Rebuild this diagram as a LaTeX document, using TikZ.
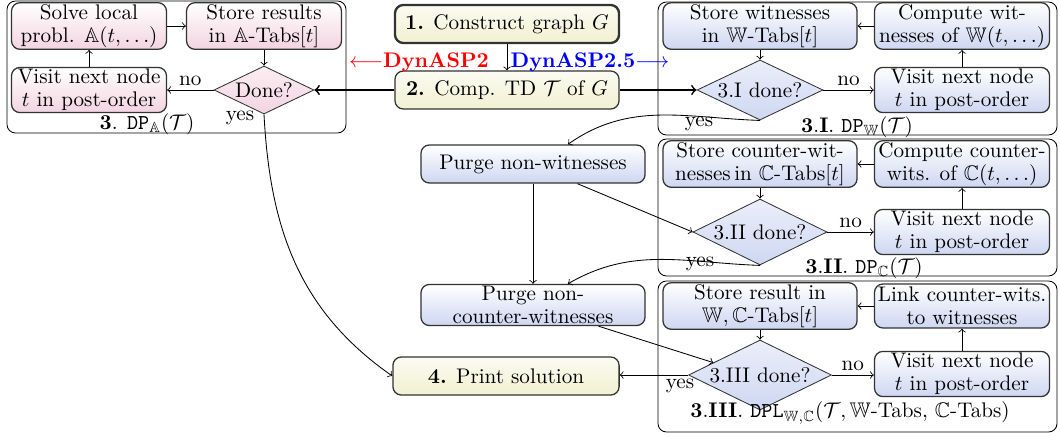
\documentclass[tikz,border=0pt]{standalone}
\usepackage{amssymb}
\usetikzlibrary{positioning,shapes,arrows,calc}

\definecolor{pinkA}{RGB}{243,212,224}
\definecolor{blueW}{RGB}{206,215,242}
\definecolor{yelM}{RGB}{241,241,210}

\begin{document}
\begin{tikzpicture}[x=0.473pt,y=0.473pt,auto]
    \tikzstyle{every node}=[align=center,inner sep=0.8pt,font=\fontsize{10}{10.9}\selectfont]
    \tikzstyle{note}=[draw=none,fill=none]
    \tikzstyle{frame}=[draw=black,rounded corners=4pt]
    \tikzstyle{proc}=[draw=black!80,semithick,rounded corners=4pt,minimum height=20.8pt]
    \tikzstyle{procA}=[proc,top color=white,bottom color=pinkA,minimum width=73.3pt]
    \tikzstyle{procW}=[proc,top color=white,bottom color=blueW]
    \tikzstyle{colL}=[procW,minimum width=91.8pt]
    \tikzstyle{colR}=[procW,minimum width=82.8pt]
    \tikzstyle{main}=[proc,top color=yelM!30,bottom color=yelM,minimum width=106pt,minimum height=18pt]
    \tikzstyle{test}=[diamond,draw=black!80,shape aspect=2.1,inner sep=0.5pt]
    \tikzstyle{testA}=[test,top color=pinkA!40,bottom color=pinkA]
    \tikzstyle{testW}=[test,top color=blueW!40,bottom color=blueW]
    \useasboundingbox (0,0) rectangle (1060,-436);
    {
        % 3. DP_A
        \draw[frame] (7,-1) rectangle (346,-133);
        \node[procA] (solve) at (89,-26) {Solve local\\probl. $\mathbb{A}(t,\dots)$};
        \node[procA] (storeA) at (264,-26) {Store results\\in $\mathbb{A}$-Tabs$[t]$};
        \node[procA] (visitA) at (89,-90) {Visit next node\\$t$ in post-order};
        \node[testA,minimum width=47.3pt,minimum height=22.7pt] (doneA) at (264,-90) {Done?};
        \node[note] (lblA) at (147,-124) {\textbf{3}. \texttt{DP}$_{\mathbb{A}}(\mathcal{T})$};
        \node[note] (yesA) at (240,-118) {yes};

        % 1. and 2.
        \node[main,line width=1.1pt] (graph) at (507,-24) {\textbf{1.} Construct graph $G$};
        \node[main] (td) at (507,-90) {\textbf{2.} Comp. TD $\mathcal{T}$ of $G$};
        \node[note,text=red] (old) at (419,-62) {$\longleftarrow$\textbf{DynASP2}};
        \node[note,text=blue] (new) at (590,-62) {\textbf{DynASP2.5}$\longrightarrow$};

        % 3.I
        \draw[frame] (658,-2) rectangle (1057,-135);
        \node[colL] (storeW) at (760,-26) {Store witnesses\\in $\mathbb{W}$-Tabs$[t]$};
        \node[colR] (compW) at (962,-26) {Compute wit-\\nesses of $\mathbb{W}(t,\dots)$};
        \node[testW,minimum width=59.6pt,minimum height=28.4pt] (doneW) at (760,-90) {3.I done?};
        \node[colR] (visitW) at (962,-90) {Visit next node\\$t$ in post-order};
        \node[note] (lblW) at (857,-127) {\textbf{3}.\textbf{I}. \texttt{DP}$_{\mathbb{W}}(\mathcal{T})$};
        \node[note] (yesW) at (699,-124) {yes};

        % 3.II
        \draw[frame] (658,-139) rectangle (1057,-276);
        \node[colL] (storeC) at (760,-164) {Store counter-wit-\\nesses\,in $\mathbb{C}$-Tabs$[t]$};
        \node[colR] (compC) at (962,-164) {Compute counter-\\wits. of $\mathbb{C}(t,\dots)$};
        \node[testW,minimum width=63.4pt,minimum height=31.2pt] (doneC) at (760,-232) {3.II done?};
        \node[colR] (visitC) at (962,-232) {Visit next node\\$t$ in post-order};
        \node[note] (lblC) at (864,-268) {\textbf{3}.\textbf{II}. \texttt{DP}$_{\mathbb{C}}(\mathcal{T})$};
        \node[note] (yesC) at (700,-264) {yes};

        % 3.III
        \draw[frame] (658,-281) rectangle (1057,-432);
        \node[colL] (storeL) at (760,-306) {Store result in\\$\mathbb{W},\mathbb{C}$-Tabs$[t]$};
        \node[colR] (linkL) at (962,-306) {Link counter-wits.\\to witnesses};
        \node[testW,minimum width=67.6pt,minimum height=33.1pt] (doneL) at (760,-375) {3.III done?};
        \node[colR] (visitL) at (962,-374) {Visit next node\\$t$ in post-order};
        \node[note] (lblL) at (850,-413) {\textbf{3}.\textbf{III}. \texttt{DPL}$_{\mathbb{W},\mathbb{C}}(\mathcal{T},\mathbb{W}$-Tabs, $\mathbb{C}$-Tabs$)$};
        \node[note] (yesL) at (680,-386) {yes};

        % purge and print
        \node[procW,minimum width=106pt,minimum height=18pt] (purgeW) at (533,-164) {Purge non-witnesses};
        \node[procW,minimum width=106pt,minimum height=19pt] (purgeC) at (533,-305) {Purge non-\\counter-witnesses};
        \node[main,minimum width=107pt] (print) at (506,-376) {\textbf{4.} Print solution};

        \draw[->] (solve) -- (storeA);
        \draw[->] (storeA) -- (doneA);
        \draw[->] (doneA) -- node[note,above=1pt] {no} (visitA);
        \draw[->] (visitA) -- (solve);

        \draw[->] (graph) -- (td);
        \draw[->,thick] (td) -- (doneA);
        \draw[->,thick] (td) -- (doneW);

        \draw[->] (compW) -- (storeW);
        \draw[->] (storeW) -- (doneW);
        \draw[->] (doneW) -- node[note,above=1pt] {no} (visitW);
        \draw[->] (visitW) -- (compW);

        \draw[->] (compC) -- (storeC);
        \draw[->] (storeC) -- (doneC);
        \draw[->] (doneC) -- node[note,above=1pt] {no} (visitC);
        \draw[->] (visitC) -- (compC);

        \draw[->] (linkL) -- (storeL);
        \draw[->] (storeL) -- (doneL);
        \draw[->] (doneL.east) -- node[note,above=1pt] {no} (doneL.east -| visitL.west);
        \draw[->] (visitL) -- (linkL);

        \draw[->] (doneW.south) to[out=178,in=35] ([xshift=16.5pt]purgeW.north);
        \draw[->] (purgeW) -- (purgeC);
        \draw[->] ([xshift=21pt]purgeW.south) -- (doneC.west);
        \draw[->] (doneC.south) to[out=178,in=30] ([xshift=16.5pt]purgeC.north);
        \draw[->] ([xshift=31pt]purgeC.south) -- ($(doneL.west)!0.35!(doneL.north)$);
        \draw[->] (doneL.west) -- (doneL.west -| print.east);
        \draw[->] (doneA.south) to[out=-87,in=145] (print.west);
    }
\end{tikzpicture}
\end{document}
